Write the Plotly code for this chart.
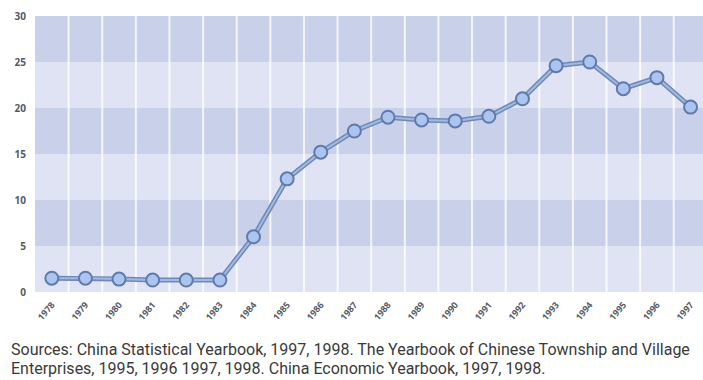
import plotly.graph_objects as go

years = [str(y) for y in range(1978, 1998)]
values = [1.5, 1.5, 1.4, 1.3, 1.3, 1.3, 6.0, 12.3, 15.2, 17.5, 19.0, 18.7, 18.6, 19.1,
          21.0, 24.6, 25.0, 22.1, 23.3, 20.1]
y_ticks = [0, 5, 10, 15, 20, 25, 30]
caption_lines = [
    "Sources: China Statistical Yearbook, 1997, 1998. The Yearbook of Chinese Township and Village",
    "Enterprises, 1995, 1996 1997, 1998. China Economic Yearbook, 1997, 1998.",
]

W, H = 703, 380
L, R, T, B = 35, 0, 16, 88
plot_h = H - T - B

fig = go.Figure()
fig.add_trace(go.Scatter(x=list(range(len(years))), y=values, mode="lines",
                         line=dict(color="#6f89b7", width=5), hoverinfo="skip", showlegend=False))
fig.add_trace(go.Scatter(x=list(range(len(years))), y=values, mode="lines+markers",
                         line=dict(color="#a2b9e2", width=2),
                         marker=dict(size=13, color="#abc4f0", line=dict(color="#5f7aab", width=2)),
                         showlegend=False))

shapes = []
for i in range(len(y_ticks) - 1):
    lo, hi = y_ticks[i], y_ticks[i + 1]
    color = "#dfe3f3" if i % 2 == 0 else "#c9d0ea"
    shapes.append(dict(type="rect", xref="paper", yref="y", x0=0, x1=1, y0=lo, y1=hi,
                       fillcolor=color, line=dict(width=0), layer="below"))
for i in range(len(years)):
    shapes.append(dict(type="line", xref="x", yref="paper", x0=i + 0.5, x1=i + 0.5, y0=0, y1=1,
                       line=dict(color="rgba(255,255,255,0.8)", width=2), layer="below"))

annotations = []
for k, line in enumerate(caption_lines):
    pix = 349 + 19.5 * k
    annotations.append(dict(text=line, xref="paper", yref="paper",
                            x=(9 - L) / (W - L - R), y=(292 - pix) / plot_h,
                            xanchor="left", yanchor="middle", showarrow=False,
                            font=dict(family="Roboto", size=16, color="#3a3a3a")))

fig.update_layout(
    width=W, height=H,
    margin=dict(l=L, r=R, t=T, b=B),
    paper_bgcolor="white", plot_bgcolor="#dfe3f3",
    shapes=shapes, annotations=annotations,
    xaxis=dict(tickmode="array", tickvals=list(range(len(years))), ticktext=years,
               range=[-0.5, 19.37], tickangle=-50, showgrid=False, zeroline=False,
               tickfont=dict(family="Open Sans", size=9, color="#555a66", weight="bold"),
               ticks="outside", ticklen=3, tickcolor="rgba(0,0,0,0)"),
    yaxis=dict(tickvals=y_ticks, range=[0, 30], showgrid=False, zeroline=False,
               tickfont=dict(family="Open Sans", size=10, color="#555a66", weight="bold"),
               ticks="outside", ticklen=6, tickcolor="rgba(0,0,0,0)"),
)

fig.write_html("out.html")
